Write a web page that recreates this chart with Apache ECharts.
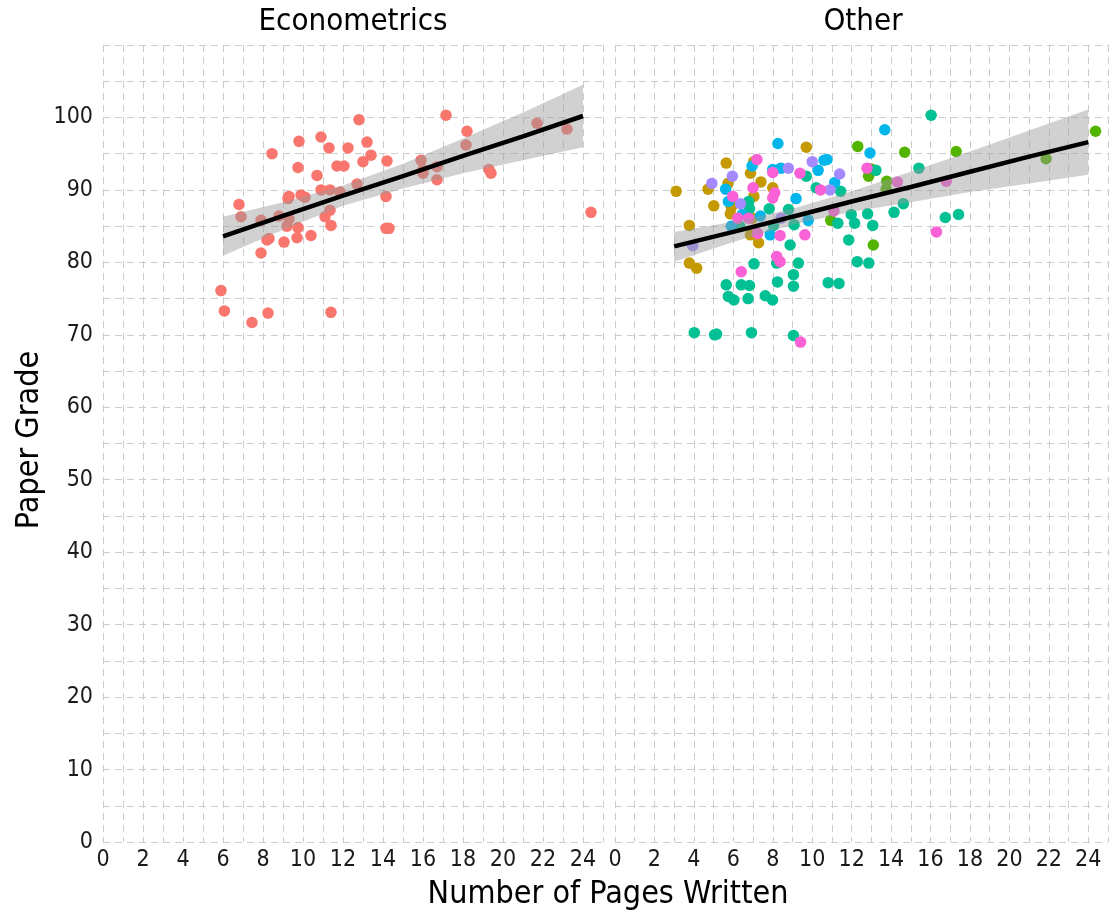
<!DOCTYPE html>
<html>
<head>
<meta charset="utf-8">
<script src="https://cdn.jsdelivr.net/npm/echarts@6/dist/echarts.min.js"></script>
<style>
html,body{margin:0;padding:0;background:#fff;}
#chart{width:1111px;height:917px;}
</style>
</head>
<body>
<div id="chart"></div>
<script>
// ---------- DATA ----------
const panelTitles = ['Econometrics', 'Other'];
const xTickLabels = [0,2,4,6,8,10,12,14,16,18,20,22,24];
const yTickLabels = [0,10,20,30,40,50,60,70,80,90,100];

// Econometrics panel: [pages, grade]
const econometrics = [
  [12.8,99.7],[9.8,96.7],[10.9,97.3],[8.45,95.0],[11.3,95.8],[12.25,95.8],[13.2,96.6],[13.4,94.8],
  [13.0,93.9],[14.2,94.0],[11.7,93.3],[12.05,93.3],[9.75,93.1],[10.7,92.0],[12.7,90.8],[10.9,90.0],
  [11.35,90.0],[11.85,89.7],[9.9,89.3],[10.1,89.0],[9.3,89.1],[9.25,88.8],[14.15,89.1],[6.8,88.0],
  [6.9,86.3],[7.9,85.8],[8.8,86.4],[9.3,86.0],[11.35,87.2],[11.1,86.3],[9.2,85.0],[9.75,84.8],
  [11.4,85.1],[14.15,84.7],[14.3,84.7],[8.3,83.3],[8.2,83.1],[10.4,83.7],[9.05,82.8],[9.7,83.4],
  [7.9,81.3],[5.9,76.1],[6.07,73.3],[8.25,73.0],[7.45,71.7],[11.4,73.1],[17.15,100.3],[18.2,98.1],
  [18.15,96.2],[21.7,99.2],[23.2,98.4],[15.9,94.1],[16.0,92.3],[16.0,92.8],[16.7,93.2],[16.7,91.4],
  [19.3,92.8],[19.4,92.3],[24.4,86.9]
];

// Other panel, one array per field
const fieldGold = [
  [3.1,89.8],[3.77,85.1],[3.77,79.9],[4.14,79.2],[5.01,87.8],[4.72,90.1],[5.64,93.7],[5.73,90.9],
  [5.9,87.6],[5.85,86.7],[5.95,88.3],[6.87,92.3],[7.04,93.9],[7.04,89.1],[7.4,91.1],[6.95,86.1],
  [6.87,83.8],[7.28,82.7],[8.0,90.3],[9.7,95.9]
];
const fieldGreen = [
  [12.31,96.0],[14.69,95.2],[17.3,95.3],[12.98,92.9],[12.86,91.9],[13.78,91.2],[13.75,90.1],
  [10.94,85.8],[13.1,82.4],[24.37,98.1],[21.86,94.3]
];
const fieldTeal = [
  [4.02,70.3],[5.05,70.0],[5.15,70.1],[6.92,70.3],[9.05,69.9],[5.64,76.9],[6.4,76.9],[6.82,76.8],
  [5.75,75.3],[6.03,74.8],[6.75,75.0],[7.62,75.4],[7.99,74.8],[7.05,79.8],[8.24,77.3],[8.2,79.9],
  [9.3,79.9],[9.05,78.3],[9.05,76.7],[6.78,88.4],[6.82,87.4],[7.82,87.4],[8.8,87.3],[6.33,85.0],
  [8.04,85.1],[9.08,85.2],[8.88,82.4],[9.7,91.9],[10.2,90.3],[13.23,92.7],[11.44,89.8],[15.41,93.0],
  [14.62,88.1],[14.15,86.9],[11.98,86.6],[12.81,86.7],[12.15,85.4],[13.07,85.1],[11.3,85.4],
  [11.85,83.1],[12.28,80.1],[12.87,79.9],[10.81,77.2],[11.36,77.1],[16.75,86.2],[17.42,86.6],
  [16.03,100.3]
];
const fieldBlue = [
  [8.26,96.4],[5.61,90.1],[5.75,88.4],[6.95,93.3],[8.0,92.8],[8.41,93.0],[9.18,88.8],[7.37,86.4],
  [6.45,86.6],[5.9,85.0],[7.87,83.8],[9.8,85.8],[10.3,92.7],[13.68,98.3],[12.93,95.1],[10.75,94.2],
  [11.14,91.0],[10.6,94.1]
];
const fieldPurple = [
  [4.91,90.9],[5.95,91.9],[6.36,88.1],[8.79,93.0],[10.0,93.9],[3.94,82.3],[8.42,86.1],[11.39,92.2],
  [10.9,90.0]
];
const fieldPink = [
  [7.2,94.2],[5.97,89.1],[6.23,86.1],[7.0,90.3],[8.0,92.4],[8.1,89.6],[8.0,88.9],[9.38,92.3],
  [7.23,84.0],[8.37,83.7],[9.63,83.8],[8.2,80.8],[8.37,80.1],[6.4,78.7],[9.41,69.0],[6.78,86.1],
  [10.42,90.0],[12.78,93.0],[11.1,87.1],[16.3,84.2],[14.32,91.1],[16.8,91.2]
];

// Fitted lines and confidence bands
const econFitX   = [6, 9, 12, 15, 18, 21, 24];
const econFitY   = [83.6, 86.4, 89.2, 91.9, 94.7, 97.4, 100.2];
const econLow    = [80.9, 84.5, 87.8, 90.2, 92.3, 94.1, 95.9];
const econHigh   = [86.3, 88.3, 90.6, 93.6, 97.1, 100.7, 104.5];
const otherFitX  = [3, 6, 9, 12, 15, 18, 21, 24];
const otherFitY  = [82.2, 84.2, 86.3, 88.4, 90.4, 92.5, 94.6, 96.6];
const otherLow   = [80.1, 82.8, 85.2, 87.0, 88.3, 89.7, 90.9, 92.1];
const otherHigh  = [84.2, 85.6, 87.4, 89.8, 92.5, 95.3, 98.2, 101.1];

// ---------- CHART ----------
const FONT = "'Liberation Sans Narrow','DejaVu Sans Condensed','Open Sans',sans-serif";
const colors = {econ:'#F8766D', gold:'#C49A00', green:'#53B400', teal:'#00C094',
                blue:'#00B6EB', purple:'#A58AFF', pink:'#FB61D7'};
const gridLine = {show:true, lineStyle:{color:'#cccccc', width:1, type:[7,5]}};

function xAxis(gi){
  return {type:'value', gridIndex:gi, min:0, max:25, interval:1,
    axisLine:{show:false}, axisTick:{show:false},
    axisLabel:{fontFamily:FONT, fontSize:23, color:'#1a1a1a', margin:7,
      formatter:v => xTickLabels.includes(v) ? String(v) : ''},
    splitLine:gridLine};
}
function yAxis(gi, showLabels){
  return {type:'value', gridIndex:gi, min:0, max:110, interval:5,
    axisLine:{show:false}, axisTick:{show:false},
    axisLabel:{show:showLabels, fontFamily:FONT, fontSize:23, color:'#1a1a1a', margin:10,
      formatter:v => yTickLabels.includes(v) ? String(v) : ''},
    splitLine:gridLine};
}
function scatter(gi, data, color){
  return {type:'scatter', xAxisIndex:gi, yAxisIndex:gi, data:data, symbolSize:11.5,
    itemStyle:{color:color, opacity:1}, z:2, silent:true};
}
function band(gi, xs, lo, hi){
  return {type:'custom', xAxisIndex:gi, yAxisIndex:gi, data:[[xs[0], lo[0]]], z:3, silent:true,
    renderItem:(params, api) => {
      const pts = [];
      for (let i=0;i<xs.length;i++) pts.push(api.coord([xs[i], hi[i]]));
      for (let i=xs.length-1;i>=0;i--) pts.push(api.coord([xs[i], lo[i]]));
      return {type:'polygon', shape:{points:pts}, style:{fill:'rgba(153,153,153,0.45)'}};
    }};
}
function fit(gi, xs, ys){
  return {type:'line', xAxisIndex:gi, yAxisIndex:gi, data:xs.map((x,i)=>[x, ys[i]]),
    showSymbol:false, lineStyle:{color:'#000', width:4.5}, z:4, silent:true};
}

const chart = echarts.init(document.getElementById('chart'), null, {renderer:'canvas'});
chart.setOption({
  animation:false,
  backgroundColor:'#fff',
  grid:[
    {left:103, top:45, width:500, height:797},
    {left:615, top:45, width:496, height:797}
  ],
  xAxis:[xAxis(0), xAxis(1)],
  yAxis:[yAxis(0, true), yAxis(1, false)],
  graphic:[
    {type:'text', x:353, y:22, style:{text:panelTitles[0], fontFamily:FONT, fontSize:31, fill:'#000', textAlign:'center', textVerticalAlign:'middle'}},
    {type:'text', x:863, y:22, style:{text:panelTitles[1], fontFamily:FONT, fontSize:31, fill:'#000', textAlign:'center', textVerticalAlign:'middle'}},
    {type:'text', x:608, y:895, style:{text:'Number of Pages Written', fontFamily:FONT, fontSize:32, fill:'#000', textAlign:'center', textVerticalAlign:'middle'}},
    {type:'text', x:30, y:440, rotation:Math.PI/2, style:{text:'Paper Grade', fontFamily:FONT, fontSize:32, fill:'#000', textAlign:'center', textVerticalAlign:'middle'}}
  ],
  series:[
    scatter(0, econometrics, colors.econ),
    scatter(1, fieldGold, colors.gold),
    scatter(1, fieldGreen, colors.green),
    scatter(1, fieldTeal, colors.teal),
    scatter(1, fieldBlue, colors.blue),
    scatter(1, fieldPurple, colors.purple),
    scatter(1, fieldPink, colors.pink),
    band(0, econFitX, econLow, econHigh),
    band(1, otherFitX, otherLow, otherHigh),
    fit(0, econFitX, econFitY),
    fit(1, otherFitX, otherFitY)
  ]
});
</script>
</body>
</html>
